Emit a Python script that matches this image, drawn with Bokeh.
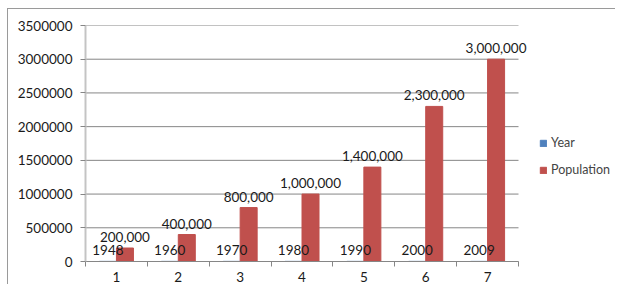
from bokeh.plotting import figure
from bokeh.models import (ColumnDataSource, Range1d, FixedTicker, Legend, LegendItem,
                          NumeralTickFormatter, LabelSet)
from bokeh.core.properties import value
from bokeh.transform import dodge
from bokeh.embed import file_html
from bokeh.resources import INLINE

categories = [1, 2, 3, 4, 5, 6, 7]
years = [1948, 1960, 1970, 1980, 1990, 2000, 2009]
population = [200000, 400000, 800000, 1000000, 1400000, 2300000, 3000000]
y_ticks = [0, 500000, 1000000, 1500000, 2000000, 2500000, 3000000, 3500000]

FONT = "Lato"
FS = "13.5px"
BLUE = "#4F81BD"
RED = "#C0504D"
GRID = "#868686"

src = ColumnDataSource(dict(
    x=categories,
    year=years,
    pop=population,
    year_lbl=[str(v) for v in years],
    pop_lbl=[f"{v:,}" for v in population],
))

W, H = 615, 284
LEFT, TOP, BOTTOM, RIGHT = 85, 25, 21, 0
x0, x1 = categories[0] - 0.5, categories[-1] + 0.5
plot_px = 433.0  # pixel width of the category area
frame_px = W - LEFT - RIGHT
x_end = x0 + (x1 - x0) * frame_px / plot_px

p = figure(width=W, height=H, output_backend="svg", toolbar_location=None,
           x_range=Range1d(x0, x_end), y_range=Range1d(0, y_ticks[-1]),
           min_border_left=LEFT, min_border_top=TOP, min_border_bottom=BOTTOM,
           min_border_right=RIGHT)
p.outline_line_color = None
p.background_fill_color = "white"
p.border_fill_alpha = 0
p.styles = {
    "background-color": "white",
    "background-image": "linear-gradient(#9a9a9a, #9a9a9a), linear-gradient(#9a9a9a, #9a9a9a)",
    "background-size": "1px 100%, 100% 1px",
    "background-position": "7px 8px, 7px 8px",
    "background-repeat": "no-repeat",
}

# horizontal gridlines limited to the category area
p.segment(x0=[x0] * len(y_ticks), x1=[x1] * len(y_ticks), y0=y_ticks, y1=y_ticks,
          line_color=GRID, line_width=1)

bw = 0.275
r_year = p.vbar(x=dodge("x", -bw / 2, range=p.x_range), top="year", width=bw,
                source=src, fill_color=BLUE, line_color=BLUE)
r_pop = p.vbar(x=dodge("x", bw / 2, range=p.x_range), top="pop", width=bw,
               source=src, fill_color=RED, line_color=RED)

for col, lbl, off in (("year", "year_lbl", -bw / 2), ("pop", "pop_lbl", bw / 2)):
    ls = LabelSet(x=dodge("x", off, range=p.x_range), y=col, text=lbl, source=src,
                  text_align="center", text_baseline="bottom", y_offset=6,
                  text_font=value(FONT), text_font_size=value(FS), text_color="#1a1a1a")
    p.add_layout(ls)

# axes
p.xaxis.bounds = (x0, x1)
p.xaxis.ticker = FixedTicker(ticks=categories, minor_ticks=[c - 0.5 for c in categories] + [x1])
p.xaxis.major_tick_line_color = None
p.xaxis.major_tick_out = 0
p.xaxis.major_tick_in = 0
p.xaxis.minor_tick_out = 5
p.xaxis.minor_tick_in = 0
p.xaxis.minor_tick_line_color = GRID
p.xaxis.axis_line_color = GRID
p.xaxis.major_label_standoff = 5

p.yaxis.ticker = FixedTicker(ticks=y_ticks)
p.yaxis.formatter = NumeralTickFormatter(format="0")
p.yaxis.axis_line_color = "#c4c4c4"
p.yaxis.axis_line_width = 2
p.yaxis.major_tick_out = 5
p.yaxis.major_tick_in = 0
p.yaxis.major_tick_line_color = GRID
p.yaxis.minor_tick_line_color = None
p.yaxis.major_label_standoff = 8

for ax in (p.xaxis, p.yaxis):
    ax.major_label_text_font = FONT
    ax.major_label_text_font_size = FS
    ax.major_label_text_color = "#1a1a1a"

p.xgrid.grid_line_color = None
p.ygrid.grid_line_color = None

legend = Legend(items=[LegendItem(label="Year", renderers=[r_year]),
                       LegendItem(label="Population", renderers=[r_pop])],
                location=(454, 84), orientation="vertical")
legend.border_line_color = None
legend.background_fill_alpha = 0
legend.label_text_font = FONT
legend.label_text_font_size = "12.5px"
legend.label_standoff = 4
legend.glyph_width = 8
legend.glyph_height = 8
legend.spacing = 12
legend.padding = 0
legend.margin = 0
p.add_layout(legend)

open("out.html", "w").write(file_html(p, INLINE))
